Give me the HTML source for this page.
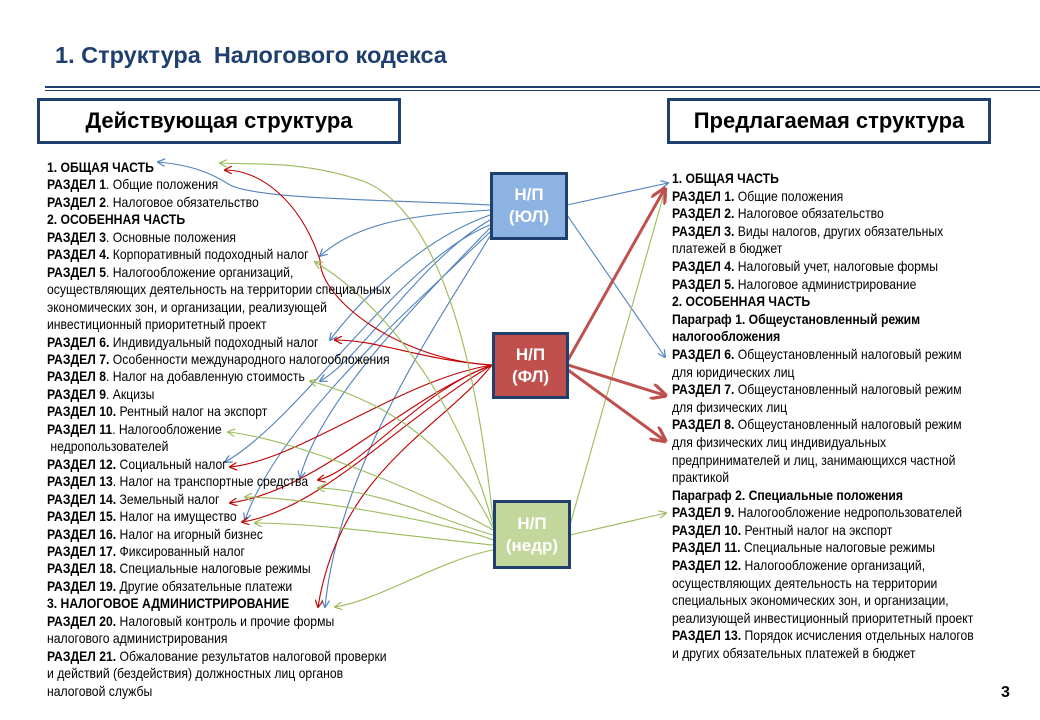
<!DOCTYPE html>
<html><head><meta charset="utf-8">
<style>
body{margin:0;width:1040px;height:720px;background:#fff;position:relative;overflow:hidden;font-family:"Liberation Sans",sans-serif;}
.abs{position:absolute;}
.title{left:55px;top:42px;font-size:23.5px;font-weight:bold;color:#1f3f6e;}
.hdr{border:3px solid #1f3f6e;box-sizing:border-box;font-weight:bold;font-size:22px;text-align:center;line-height:39px;color:#000;}
.txt{font-size:14px;line-height:17.45px;white-space:nowrap;transform:scaleX(0.87);transform-origin:0 0;color:#000;}
.txt b{font-weight:bold}
.box{border:3px solid #1f3f6e;box-sizing:border-box;color:#fff;font-weight:bold;font-size:17px;text-align:center;line-height:22px;display:flex;align-items:center;justify-content:center;}
</style></head><body>
<div class="abs title">1. Структура&nbsp; Налогового кодекса</div>
<div class="abs" style="left:45px;top:86px;width:995px;height:2px;background:#1f3f6e"></div>
<div class="abs" style="left:45px;top:90px;width:995px;height:1px;background:#1f3f6e"></div>
<div class="abs hdr" style="left:37px;top:98px;width:364px;height:46px;">Действующая структура</div>
<div class="abs hdr" style="left:667px;top:98px;width:324px;height:46px;">Предлагаемая структура</div>

<svg class="abs" style="left:0;top:0" width="1040" height="720">
<defs>
<marker id="ab" viewBox="0 0 10 10" refX="9" refY="5" markerWidth="8" markerHeight="8" orient="auto" markerUnits="userSpaceOnUse"><path d="M0,0 L10,5 L0,10" fill="none" stroke="#4f81bd" stroke-width="1.5"/></marker>
<marker id="ar" viewBox="0 0 10 10" refX="9" refY="5" markerWidth="8" markerHeight="8" orient="auto" markerUnits="userSpaceOnUse"><path d="M0,0 L10,5 L0,10" fill="none" stroke="#c00000" stroke-width="1.5"/></marker>
<marker id="ag" viewBox="0 0 10 10" refX="9" refY="5" markerWidth="8" markerHeight="8" orient="auto" markerUnits="userSpaceOnUse"><path d="M0,0 L10,5 L0,10" fill="none" stroke="#9bbb59" stroke-width="1.5"/></marker>
<marker id="aR" viewBox="0 0 10 10" refX="8" refY="5" markerWidth="16" markerHeight="16" orient="auto" markerUnits="userSpaceOnUse"><path d="M0,0 L10,5 L0,10" fill="none" stroke="#c0504d" stroke-width="2"/></marker>
</defs>
<g fill="none" stroke-width="1.1">
<g stroke="#4f81bd" marker-end="url(#ab)">
<path d="M490,205 C400,200 260,200 230,185 C210,172 190,165 158,162"/>
<path d="M490,210 C420,215 360,220 320,256"/>
<path d="M490,215 C420,240 360,300 330,340"/>
<path d="M490,220 C420,260 360,360 320,381"/>
<path d="M490,225 C400,260 300,420 225,462"/>
<path d="M490,228 C420,300 320,400 300,478"/>
<path d="M490,232 C420,300 280,420 245,520"/>
<path d="M490,236 C440,320 340,460 325,607"/>
</g>
<g stroke="#c00000" marker-end="url(#ar)">
<path d="M492,365 C400,360 320,300 320,260 C300,200 260,170 225,170"/>
<path d="M492,365 C420,360 380,340 335,340"/>
<path d="M492,365 C400,380 300,460 230,467"/>
<path d="M492,365 C420,390 360,470 318,480"/>
<path d="M492,365 C400,400 320,490 230,503"/>
<path d="M492,365 C400,420 320,510 242,522"/>
<path d="M492,365 C440,430 340,470 318,607"/>
</g>
<g stroke="#9bbb59" marker-end="url(#ag)">
<path d="M493,520 C470,300 420,200 360,180 C300,160 250,165 220,163"/>
<path d="M493,525 C460,400 380,300 315,262"/>
<path d="M493,528 C450,440 380,400 310,381"/>
<path d="M493,530 C440,500 300,440 228,432"/>
<path d="M493,535 C440,520 380,490 318,488"/>
<path d="M493,540 C440,520 300,497 245,497"/>
<path d="M493,545 C440,540 320,523 255,523"/>
<path d="M493,550 C440,560 380,600 335,607"/>
</g>
<path d="M567,205 L668,183" stroke="#4f81bd" marker-end="url(#ab)"/>
<path d="M567,215 L665,357" stroke="#4f81bd" marker-end="url(#ab)"/>
<path d="M570,535 L666,513" stroke="#9bbb59" marker-end="url(#ag)"/>
<path d="M570,525 L665,190" stroke="#9bbb59" marker-end="url(#ag)"/>
</g>
<g fill="none" stroke="#c0504d" stroke-width="3" marker-end="url(#aR)">
<path d="M568,360 L664,190"/>
<path d="M568,365 L664,395"/>
<path d="M568,370 L664,440"/>
</g>
</svg>

<div class="abs box" style="left:490px;top:172px;width:78px;height:68px;background:#8db3e2;">Н/П<br>(ЮЛ)</div>
<div class="abs box" style="left:492px;top:332px;width:77px;height:67px;background:#c0504d;">Н/П<br>(ФЛ)</div>
<div class="abs box" style="left:493px;top:500px;width:78px;height:69px;background:#c3d69b;">Н/П<br>(недр)</div>

<div class="abs txt" style="left:47px;top:159px;">
<b>1. ОБЩАЯ ЧАСТЬ</b><br>
<b>РАЗДЕЛ 1</b>. Общие положения<br>
<b>РАЗДЕЛ 2</b>. Налоговое обязательство<br>
<b>2. ОСОБЕННАЯ ЧАСТЬ</b><br>
<b>РАЗДЕЛ 3</b>. Основные положения<br>
<b>РАЗДЕЛ 4.</b> Корпоративный подоходный налог<br>
<b>РАЗДЕЛ 5</b>. Налогообложение организаций,<br>
осуществляющих деятельность на территории специальных<br>
экономических зон, и организации, реализующей<br>
инвестиционный приоритетный проект<br>
<b>РАЗДЕЛ 6.</b> Индивидуальный подоходный налог<br>
<b>РАЗДЕЛ 7.</b> Особенности международного налогообложения<br>
<b>РАЗДЕЛ 8</b>. Налог на добавленную стоимость<br>
<b>РАЗДЕЛ 9</b>. Акцизы<br>
<b>РАЗДЕЛ 10.</b> Рентный налог на экспорт<br>
<b>РАЗДЕЛ 11</b>. Налогообложение<br>
&nbsp;недропользователей<br>
<b>РАЗДЕЛ 12.</b> Социальный налог<br>
<b>РАЗДЕЛ 13</b>. Налог на транспортные средства<br>
<b>РАЗДЕЛ 14.</b> Земельный налог<br>
<b>РАЗДЕЛ 15.</b> Налог на имущество<br>
<b>РАЗДЕЛ 16.</b> Налог на игорный бизнес<br>
<b>РАЗДЕЛ 17.</b> Фиксированный налог<br>
<b>РАЗДЕЛ 18.</b> Специальные налоговые режимы<br>
<b>РАЗДЕЛ 19.</b> Другие обязательные платежи<br>
<b>3. НАЛОГОВОЕ АДМИНИСТРИРОВАНИЕ</b><br>
<b>РАЗДЕЛ 20.</b> Налоговый контроль и прочие формы<br>
налогового администрирования<br>
<b>РАЗДЕЛ 21.</b> Обжалование результатов налоговой проверки<br>
и действий (бездействия) должностных лиц органов<br>
налоговой службы
</div>

<div class="abs txt" style="left:672px;top:170px;line-height:17.6px;">
<b>1. ОБЩАЯ ЧАСТЬ</b><br>
<b>РАЗДЕЛ 1.</b> Общие положения<br>
<b>РАЗДЕЛ 2.</b> Налоговое обязательство<br>
<b>РАЗДЕЛ 3.</b> Виды налогов, других обязательных<br>
платежей в бюджет<br>
<b>РАЗДЕЛ 4.</b> Налоговый учет, налоговые формы<br>
<b>РАЗДЕЛ 5.</b> Налоговое администрирование<br>
<b>2. ОСОБЕННАЯ ЧАСТЬ</b><br>
<b>Параграф 1. Общеустановленный режим</b><br>
<b>налогообложения</b><br>
<b>РАЗДЕЛ 6.</b> Общеустановленный налоговый режим<br>
для юридических лиц<br>
<b>РАЗДЕЛ 7.</b> Общеустановленный налоговый режим<br>
для физических лиц<br>
<b>РАЗДЕЛ 8.</b> Общеустановленный налоговый режим<br>
для физических лиц индивидуальных<br>
предпринимателей и лиц, занимающихся частной<br>
практикой<br>
<b>Параграф 2. Специальные положения</b><br>
<b>РАЗДЕЛ 9.</b> Налогообложение недропользователей<br>
<b>РАЗДЕЛ 10.</b> Рентный налог на экспорт<br>
<b>РАЗДЕЛ 11.</b> Специальные налоговые режимы<br>
<b>РАЗДЕЛ 12.</b> Налогообложение организаций,<br>
осуществляющих деятельность на территории<br>
специальных экономических зон, и организации,<br>
реализующей инвестиционный приоритетный проект<br>
<b>РАЗДЕЛ 13.</b> Порядок исчисления отдельных налогов<br>
и других обязательных платежей в бюджет
</div>

<div class="abs" style="left:1001px;top:684px;font-size:16px;font-weight:bold;">3</div>
</body></html>
